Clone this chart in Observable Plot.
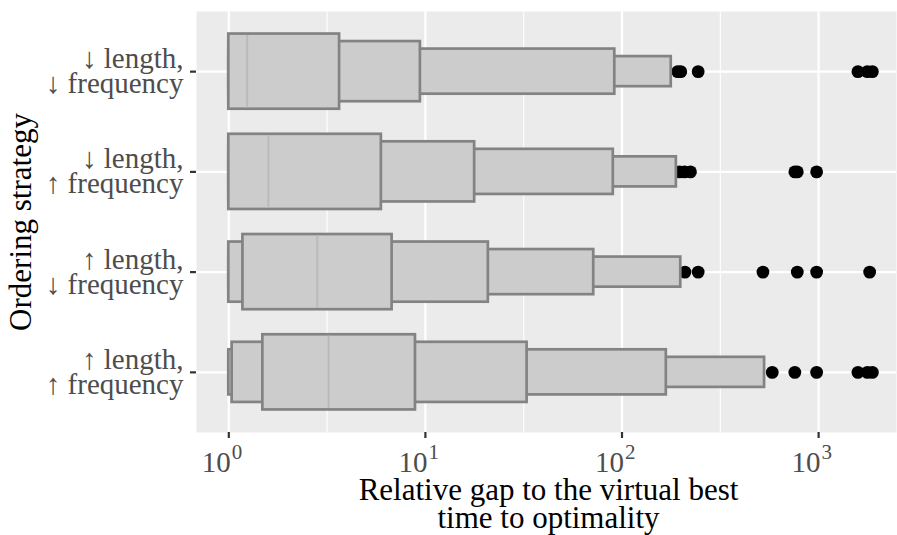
<!DOCTYPE html>
<html>
<head>
<meta charset="utf-8">
<script src="https://cdn.jsdelivr.net/npm/d3@7"></script>
<script src="https://cdn.jsdelivr.net/npm/@observablehq/plot@0.6"></script>
<style>
  html, body { margin: 0; padding: 0; background: #ffffff; }
  #chart svg { display: block; }
  g[aria-label="axis-title"] text { letter-spacing: 0.6px; }
  g[aria-label="y-tick-label"] text { letter-spacing: 0.3px; }
</style>
</head>
<body>
<div id="chart"></div>
<script>
// ---- Data ----
const categories = [
  "↓\uFE0E length,\n↓\uFE0E frequency",
  "↓\uFE0E length,\n↑\uFE0E frequency",
  "↑\uFE0E length,\n↓\uFE0E frequency",
  "↑\uFE0E length,\n↑\uFE0E frequency"
];
const medians  = [1.24, 1.59, 2.82, 3.22];
const lv1Lower = [1, 1, 1.18, 1.49];
const lv1Upper = [3.66, 5.97, 6.77, 8.90];
const lv2Lower = [1, 1, 1, 1.04];
const lv2Upper = [9.43, 17.8, 20.9, 32.9];
const lv3Lower = [1, 1, 1, 1];
const lv3Upper = [91.9, 90.3, 71.8, 168];
const lv4Lower = [1, 1, 1, 1];
const lv4Upper = [178, 189, 199, 531];
const outliers = [
  [192, 199, 244, 1585, 1770, 1877],
  [196, 208, 223, 757, 779, 977],
  [209, 244, 521, 779, 977, 1818],
  [581, 757, 977, 1585, 1770, 1877]
];
const xTicks = [1, 10, 100, 1000];
const xTickBase = "10";
const xTickExponents = ["0", "1", "2", "3"];
const xMinor = [3.162, 31.62, 316.2];
const xTitle = "Relative gap to the virtual best\ntime to optimality";
const yTitle = "Ordering strategy";

// ---- Build tables ----
const pos = (i) => i + 1; // category index -> y position (top to bottom)
const levels = [
  [lv1Lower, lv1Upper],
  [lv2Lower, lv2Upper],
  [lv3Lower, lv3Upper],
  [lv4Lower, lv4Upper]
];
const boxRows = levels.map(([lo, hi], k) =>
  categories.map((c, i) => ({cat: c, y: pos(i), level: k + 1, lo: lo[i], hi: hi[i]}))
);
const halfH = (level) => 0.375 * (1 - 0.2 * (level - 1));
const medianRows = categories.map((c, i) => ({y: pos(i), x: medians[i]}));
const outlierRows = outliers.flatMap((vals, i) => vals.map(v => ({y: pos(i), x: v})));
const catRows = categories.map((c, i) => ({y: pos(i), label: c}));
const tickRows = xTicks.map((t, i) => ({x: t, base: xTickBase, exp: xTickExponents[i]}));

const W = 897, H = 535;
const mL = 196, mR = 1, mT = 11, mB = 103;
const panelW = W - mL - mR, panelH = H - mT - mB;
const FONT = "'Liberation Serif', 'DejaVu Serif', serif";

const boxMarks = boxRows.slice().reverse().map(rows =>
  Plot.rect(rows, {
    x1: "lo", x2: "hi",
    y1: d => d.y - halfH(d.level), y2: d => d.y + halfH(d.level),
    fill: "#CCCCCC", stroke: "#838383", strokeWidth: 2.7
  })
);

const chart = Plot.plot({
  width: W, height: H,
  marginLeft: mL, marginRight: mR, marginTop: mT, marginBottom: mB,
  style: {fontFamily: FONT, background: "#ffffff"},
  x: {type: "log", domain: [0.685, 2490], axis: null},
  y: {domain: [4.6, 0.4], axis: null},
  marks: [
    Plot.frame({fill: "#EBEBEB", stroke: null}),
    Plot.ruleX(xMinor, {x: d => d, stroke: "#ffffff", strokeWidth: 1.1}),
    Plot.ruleX(xTicks, {x: d => d, stroke: "#ffffff", strokeWidth: 2.2}),
    Plot.ruleY(catRows, {y: "y", stroke: "#ffffff", strokeWidth: 2.2}),
    Plot.dot(outlierRows, {x: "x", y: "y", r: 6.4, fill: "#000000", stroke: null}),
    ...boxMarks,
    Plot.ruleX(medianRows, {x: "x", y1: d => d.y - halfH(1) + 0.014, y2: d => d.y + halfH(1) - 0.014, stroke: "#BABABA", strokeWidth: 2}),
    // axis ticks
    Plot.ruleX(xTicks, {x: d => d, insetTop: panelH, insetBottom: -6, stroke: "#333333", strokeWidth: 2.2}),
    Plot.ruleY(catRows, {y: "y", insetLeft: -6, insetRight: panelW, stroke: "#333333", strokeWidth: 2.2}),
    // y tick labels
    Plot.text(catRows, {y: "y", text: "label", frameAnchor: "left", dx: -13, dy: 1, textAnchor: "end", lineAnchor: "middle", lineHeight: 0.86, fontSize: 29, fill: "#4D4D4D", ariaLabel: "y-tick-label"}),
    // x tick labels (base + superscript exponent)
    Plot.text(tickRows, {x: "x", text: "base", frameAnchor: "bottom", dx: 2, dy: 39, textAnchor: "end", lineAnchor: "bottom", fontSize: 29, fill: "#4D4D4D"}),
    Plot.text(tickRows, {x: "x", text: "exp", frameAnchor: "bottom", dx: 3, dy: 26, textAnchor: "start", lineAnchor: "bottom", fontSize: 21, fill: "#4D4D4D"}),
    // axis titles
    Plot.text([xTitle], {text: d => d, frameAnchor: "bottom", dy: 95, dx: 2, textAnchor: "middle", lineAnchor: "bottom", lineHeight: 0.9, fontSize: 31, fill: "#000000", ariaLabel: "axis-title"}),
    Plot.text([yTitle], {text: d => d, frameAnchor: "left", dx: -175, rotate: -90, textAnchor: "middle", lineAnchor: "middle", fontSize: 31, fill: "#000000", ariaLabel: "axis-title"})
  ]
});
document.getElementById("chart").appendChild(chart);
</script>
</body>
</html>
